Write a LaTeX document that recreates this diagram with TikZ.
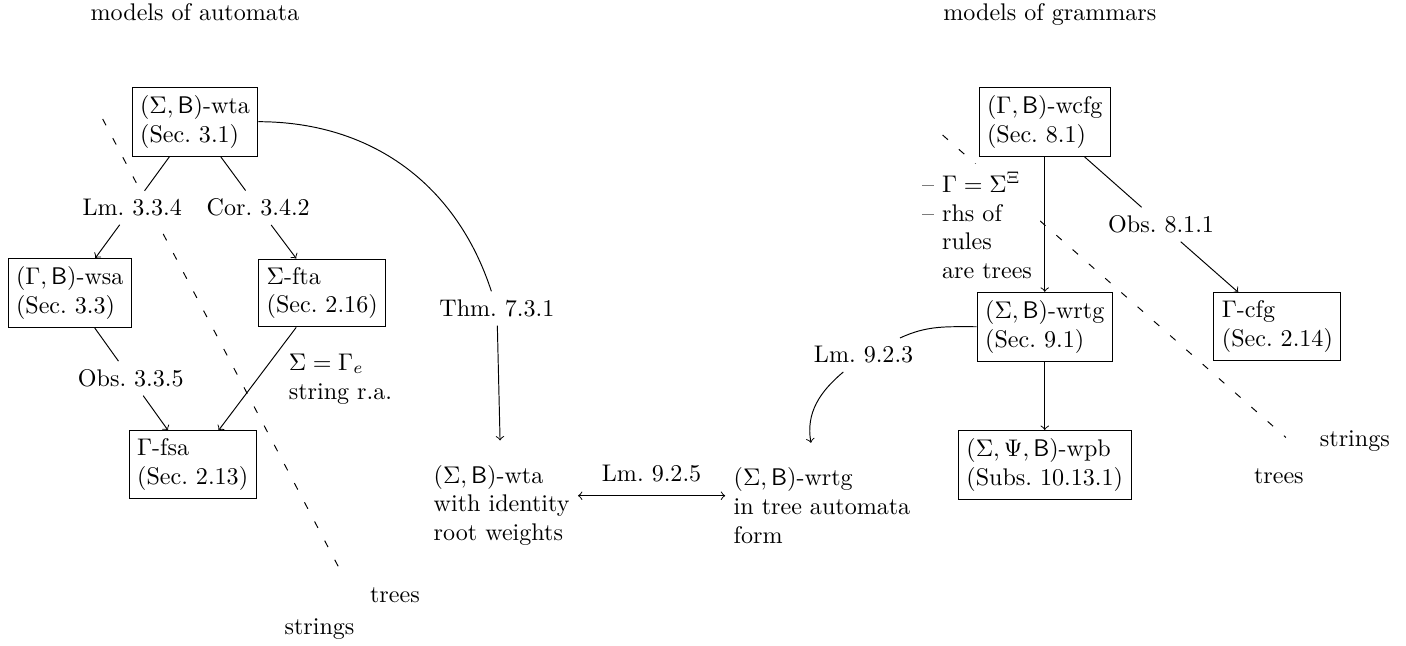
\documentclass[tikz,border=0pt]{standalone}
\begin{document}
\begin{tikzpicture}[
  box/.style={draw, align=left},
  lbl/.style={fill=white},
  plain/.style={align=left, inner ysep=10pt, anchor=west},
  >=to]
\useasboundingbox (0,0) rectangle (20.53,-9.42);
% borders between trees and strings
\coordinate (sepA) at (1.499,-1.737);
\coordinate (sepAend) at (5.012,-8.410);
\coordinate (sepG) at (13.763,-1.971);
\coordinate (sepGend) at (18.776,-6.388);
\draw[loosely dashed] (sepA) -- (sepAend);
\draw[loosely dashed] (sepG) -- (sepGend);
% automata
\node (modA) at (2.847,-0.184) {models of automata};
\node[box] (wta) at (2.847,-1.777) {$(\Sigma,\mathsf{B})$-wta\\(Sec.~3.1)};
\node[lbl] (lm334) at (1.930,-3.034) {Lm.~3.3.4};
\node[lbl] (cor342) at (3.771,-3.034) {Cor.~3.4.2};
\node[box] (wsa) at (1.018,-4.278) {$(\Gamma,\mathsf{B})$-wsa\\(Sec.~3.3)};
\node[box] (fta) at (4.704,-4.278) {$\Sigma$-fta\\(Sec.~2.16)};
\node[lbl] (obs335) at (1.910,-5.525) {Obs.~3.3.5};
\node[box] (fsa) at (2.813,-6.786) {$\Gamma$-fsa\\(Sec.~2.13)};
\node (treesA) at (5.767,-8.687) {trees};
\node (stringsA) at (4.665,-9.189) {strings};
\draw (wta) -- (lm334);
\draw[->] (lm334) -- (wsa);
\draw (wta) -- (cor342);
\draw[->] (cor342) -- (fta);
\draw (wsa) -- (obs335);
\draw[->] (obs335) -- (fsa);
\draw[->] (fta) -- node[right=9.5pt, align=left] {$\Sigma=\Gamma_e$\\string r.a.} (fsa);
% in between
\node[lbl] (thm) at (7.256,-4.504) {Thm.~7.3.1};
\node[plain] (idwta) at (6.209,-7.379) {$(\Sigma,\mathsf{B})$-wta\\with identity\\root weights};
\node[plain] (tawrtg) at (10.589,-7.379) {$(\Sigma,\mathsf{B})$-wrtg\\in tree automata\\form};
\node[lbl] (lm923) at (12.610,-5.183) {Lm.~9.2.3};
\draw (wta) to[out=0,in=108] (thm);
\draw[->] (thm) -- (idwta);
\draw[<->] ([yshift=4pt]idwta.east) -- node[above=2pt] {Lm.~9.2.5} ([yshift=4pt]tawrtg.west);
% grammars
\node (modG) at (15.33,-0.219) {models of grammars};
\node[box] (wcfg) at (15.255,-1.777) {$(\Gamma,\mathsf{B})$-wcfg\\(Sec.~8.1)};
\node[lbl, align=left, anchor=west] (rules) at (13.340,-3.292) {\textendash~$\Gamma=\Sigma^{\Xi}$\\\textendash~rhs of\\\hphantom{\textendash~}rules\\\hphantom{\textendash~}are trees};
\node[lbl] (obs811) at (16.954,-3.278) {Obs.~8.1.1};
\node[box] (wrtg) at (15.255,-4.771) {$(\Sigma,\mathsf{B})$-wrtg\\(Sec.~9.1)};
\node[box] (cfg) at (18.652,-4.771) {$\Gamma$-cfg\\(Sec.~2.14)};
\node[box] (wpb) at (15.255,-6.789) {$(\Sigma,\Psi,\mathsf{B})$-wpb\\(Subs.~10.13.1)};
\node (stringsG) at (19.783,-6.439) {strings};
\node (treesG) at (18.673,-6.950) {trees};
\draw[->] (wcfg) -- (wrtg);
\draw (wcfg) -- (obs811);
\draw[->] (obs811) -- (cfg);
\draw[->] (wrtg) -- (wpb);
\draw (wrtg) to[out=180,in=25] (lm923);
\draw[->] (lm923) to[out=220,in=100] (tawrtg);
\end{tikzpicture}
\end{document}
